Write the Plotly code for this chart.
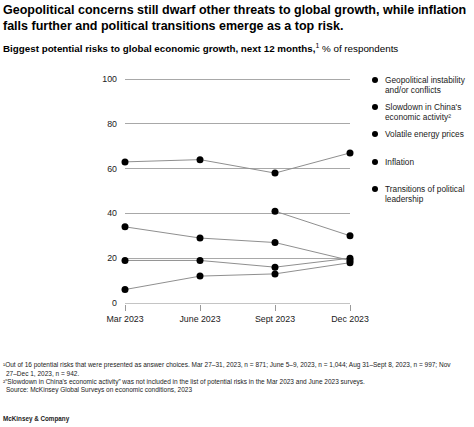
import plotly.graph_objects as go

# ---- data ----
periods = ["Mar 2023", "June 2023", "Sept 2023", "Dec 2023"]
geopolitical = [63, 64, 58, 67]
china_slowdown = [None, None, 41, 30]
energy_prices = [19, 19, 16, 20]
inflation = [34, 29, 27, 19]
political_transitions = [6, 12, 13, 18]

series_names = [
    "Geopolitical instability<br>and/or conflicts",
    "Slowdown in China's<br>economic activity²",
    "Volatile energy prices",
    "Inflation",
    "Transitions of political<br>leadership",
]
series_values = [geopolitical, china_slowdown, energy_prices, inflation, political_transitions]
y_ticks = [0, 20, 40, 60, 80, 100]

# ---- layout geometry (pixels) ----
W, H = 474, 427
X0, X1 = 125, 350      # plot area left/right
Y100, Y0 = 79, 303     # pixel rows of 100 and 0
PAD = 0.5              # y-range padding (units)
UNIT = (Y0 - Y100) / 100.0
FONT = "Liberation Sans, Arial, sans-serif"


def px(x):
    return x / W


def py(y):
    return (H - y) / H


fig = go.Figure()
# legend bullets on a full-figure pixel overlay (drawn first, below main plot)
legend_y = [80, 107, 134, 162, 189]
fig.add_trace(go.Scatter(
    x=[375] * len(legend_y), y=legend_y,
    xaxis="x2", yaxis="y2", mode="markers",
    marker=dict(color="#000000", size=6), showlegend=False, hoverinfo="skip",
    cliponaxis=False,
))
for name, vals in zip(series_names, series_values):
    fig.add_trace(go.Scatter(
        x=periods, y=vals, mode="lines+markers", name=name,
        line=dict(color="#8f8f8f", width=1),
        marker=dict(color="#000000", size=7),
        cliponaxis=False, showlegend=False, connectgaps=False,
    ))

ann = []


def text(x, y, s, size, bold=False, color="#000000", anchor="left"):
    if bold:
        s = "<b>" + s + "</b>"
    ann.append(dict(x=px(x), y=py(y), xref="paper", yref="paper", text=s,
                    showarrow=False, xanchor=anchor, yanchor="middle",
                    align="left", font=dict(family=FONT, size=size, color=color)))


# title
text(1, 10, "Geopolitical concerns still dwarf other threats to global growth, while inflation", 12.5, True)
text(1, 26.5, "falls further and political transitions emerge as a top risk.", 12.5, True)
# subtitle
text(1, 48, "<b>Biggest potential risks to global economic growth, next 12 months,</b><sup>1</sup> % of respondents", 9.8)

# legend text
for name, ly in zip(series_names, legend_y):
    lines = name.split("<br>")
    for i, ln in enumerate(lines):
        text(383, ly + i * 9.6, ln, 8.3, color="#1a1a1a")

# footnotes
fn = [
    (1, 365, "¹Out of 16 potential risks that were presented as answer choices. Mar 27–31, 2023, n = 871; June 5–9, 2023, n = 1,044; Aug 31–Sept 8, 2023, n = 997; Nov"),
    (4, 373, "27–Dec 1, 2023, n = 942."),
    (1, 381.5, "²“Slowdown in China's economic activity” was not included in the list of potential risks in the Mar 2023 and June 2023 surveys."),
    (4, 390, "Source: McKinsey Global Surveys on economic conditions, 2023"),
]
for x, y, s in fn:
    text(x, y, s, 6.5, color="#1a1a1a")
text(1, 419, "McKinsey & Company", 6.3, True, color="#1a1a1a")

ydom = [(H - Y0 - PAD * UNIT) / H, (H - Y100 + PAD * UNIT) / H]

fig.update_layout(
    width=W, height=H,
    margin=dict(l=0, r=0, t=0, b=0, pad=0),
    paper_bgcolor="white", plot_bgcolor="rgba(0,0,0,0)",
    annotations=ann,
    xaxis=dict(domain=[X0 / W, X1 / W], range=[0, 3], type="category",
               showgrid=False, zeroline=False, automargin=False,
               showline=False,
               ticks="outside", ticklen=6, tickcolor="#9a9a9a", tickwidth=1,
               tickfont=dict(family=FONT, size=8.8, color="#1a1a1a")),
    yaxis=dict(domain=ydom, range=[-PAD, 100 + PAD], tickvals=y_ticks,
               showgrid=True, gridcolor="#a8a8a8", automargin=False,
               gridwidth=1, zeroline=True, zerolinecolor="#c4c4c4", zerolinewidth=1,
               showline=False, ticks="",
               ticklabelstandoff=7,
               tickfont=dict(family=FONT, size=8.8, color="#1a1a1a")),
    xaxis2=dict(domain=[0, 1], range=[0, W], anchor="y2", visible=False),
    yaxis2=dict(domain=[0, 1], range=[H, 0], anchor="x2", visible=False),
)

fig.write_html("out.html", config={"displayModeBar": False},
               post_script="document.body.style.margin='0';")
